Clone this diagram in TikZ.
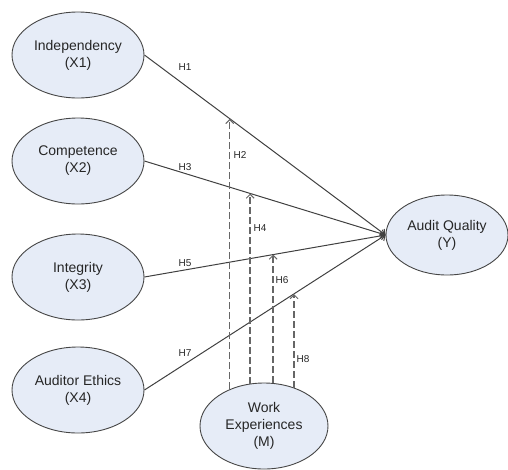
\documentclass[tikz,border=0pt]{standalone}
\usepackage{fontspec}
\setmainfont{Liberation Sans}
\usetikzlibrary{shapes.geometric, arrows.meta}
\definecolor{bubble}{RGB}{230,236,247}
\definecolor{rim}{RGB}{70,70,70}

\begin{document}
\begin{tikzpicture}[x=1pt, y=-1pt,
    var/.style={ellipse, draw=rim, fill=bubble, line width=0.9pt, minimum width=132pt, minimum height=86pt, inner sep=0pt, align=center, text=black!85, font=\fontsize{14}{17}\selectfont},
    link/.style={draw=black!75, line width=1pt, -{Straight Barb[length=4pt,width=8pt]}},
    moder/.style={draw=black!60, line width=1.5pt, dash pattern=on 7pt off 3pt, -{Straight Barb[length=4pt,width=8pt,line width=1pt]}},
    hyp/.style={font=\fontsize{10}{12}\selectfont, text=black!85, inner sep=0pt}]
    \useasboundingbox (0,0) rectangle (508,469);
    \node[var] (X1) at (78,55) {Independency\\(X1)};
    \node[var] (X2) at (78,161) {Competence\\(X2)};
    \node[var] (X3) at (78,277) {Integrity\\(X3)};
    \node[var] (X4) at (78,390) {Auditor Ethics\\(X4)};
    \node[var, minimum width=122pt, minimum height=80pt] (Y) at (447,235) {Audit Quality\\(Y)};
    \node[var, minimum width=128pt] (M) at (264,426) {Work\\Experiences\\(M)};
    \path[link] (X1.east) -- coordinate[pos=0.355] (m1) (Y.west);
    \path[link] (X2.east) -- coordinate[pos=0.44] (m2) (Y.west);
    \path[link] (X3.east) -- coordinate[pos=0.533] (m3) (Y.west);
    \path[link] (X4.east) -- coordinate[pos=0.619] (m4) (Y.west);
    \draw[moder] (M.133) -- (M.133 |- m1);
    \draw[moder] (M.108) -- (M.108 |- m2);
    \draw[moder] (M.78) -- (M.78 |- m3);
    \draw[moder] (M.52) -- (M.52 |- m4);
    \node[hyp] (h1) at (185,67) {H1};
    \node[hyp] (h3) at (185,167) {H3};
    \node[hyp] (h5) at (185,263) {H5};
    \node[hyp] (h7) at (185,353) {H7};
    \node[hyp] (h2) at (240,155) {H2};
    \node[hyp] (h4) at (260,228) {H4};
    \node[hyp] (h6) at (282,280) {H6};
    \node[hyp] (h8) at (303,359) {H8};
\end{tikzpicture}
\end{document}
